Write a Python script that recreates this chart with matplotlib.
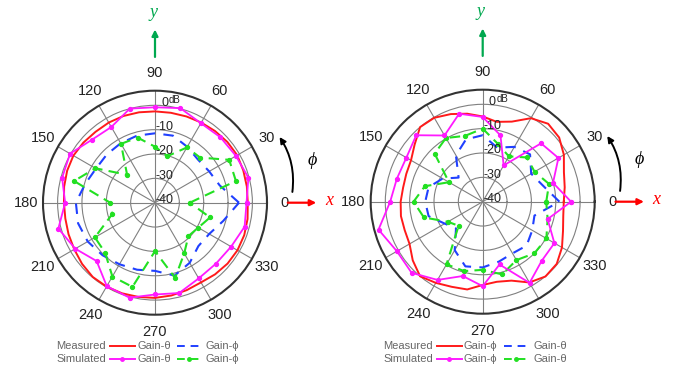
import numpy as np
import matplotlib.pyplot as plt
from matplotlib.lines import Line2D
from matplotlib.patches import FancyArrowPatch

plt.rcParams['font.family'] = ['Liberation Sans', 'DejaVu Sans']

# angles (deg) for simulated and measured samples
ang15 = np.arange(0, 360, 15)
ang10 = np.arange(0, 360, 10)

# left pattern (dB)
left_meas_theta = [-1.9, -1.7, -1.4, -1.0, -1.2, -1.6, -2.0, -2.3, -2.5, -2.5, -2.3, -2.1,
                   -2.0, -2.0, -1.6, -1.3, -1.6, -2.1, -2.6, -2.6, -2.2, -1.7, -0.9, -0.2,
                   -0.2, -0.4, -0.7, -0.9, -1.3, -1.8, -2.2, -1.6, -1.1, -0.9, -1.0, -1.4]
left_meas_phi = [-5.5, -12.5, -14.3, -15.0, -13.5, -11.5, -11.5, -11.5, -11.8, -12.0, -12.0, -10.3,
                 -7.5, -7.3, -8.1, -9.5, -10.8, -11.5, -12.0, -9.0, -11.5, -14.8, -14.3, -11.0]
left_sim_theta = [-2.4, -0.3, -1.6, -2.0, -2.3, 0.2, -0.8, 0.0, -4.1, -3.4, 0.3, -0.5,
                  -3.1, 1.1, -2.2, -6.1, -0.4, 0.4, -2.3, -1.6, -4.1, -4.6, -3.9, -1.9]
left_sim_phi = [-25.7, -5.6, -4.8, -13.8, -13.8, -20.2, -17.0, -12.3, -12.1, -23.8, -11.7, -5.6,
                -21.6, -21.8, -11.5, -11.0, -5.0, -4.2, -20.1, -8.0, -16.0, -20.6, -19.5, -16.6]

# right pattern (dB)
right_meas_phi = [-6.7, -5.8, -4.5, -1.5, 1.0, 1.8, -0.4, -5.0, -6.7, -5.0, -3.3, -1.7,
                  -0.2, 0.0, -3.5, -6.0, -6.6, -6.8, -6.3, -5.9, -5.9, -5.3, -2.5, 0.0,
                  -1.5, -2.8, -3.4, -5.8, -6.6, -5.5, -1.7, 0.1, -0.3, -2.4, -4.9, -6.4]
right_meas_theta = [-8.5, -14.4, -17.0, -12.5, -14.0, -17.0, -12.7, -13.5, -18.0, -26.0, -21.0, -17.0,
                    -16.4, -17.0, -22.0, -24.5, -17.0, -12.5, -13.0, -14.5, -15.5, -14.5, -16.5, -18.0]
right_sim_phi = [-3.7, -10.1, -4.1, -6.1, -22.8, -11.8, -5.2, -2.6, -8.6, -1.4, -3.8, -3.5,
                 -2.0, 4.3, 0.7, 1.3, -2.9, -8.4, -5.3, -13.3, -1.5, -5.7, -6.0, -12.4]
right_sim_theta = [-13.9, -11.8, -15.4, -14.3, -18.5, -15.5, -10.0, -12.0, -9.8, -12.1, -24.0, -15.4,
                   -11.6, -15.0, -23.5, -26.0, -10.3, -10.5, -12.0, -9.1, -12.3, -10.0, -9.8, -12.4]

angle_labels = [str(a) for a in range(0, 360, 30)]
ring_labels = ['-40', '-30', '-20', '-10', '0']

RED = '#ff1a1a'
MAG = '#ff1aff'
BLUE = '#2040ff'
GREEN = '#22e022'
W, H = 675, 368
R_PX = 112.0

fig = plt.figure(figsize=(6.75, 3.68), dpi=100)


def fx(x):
    return x / W


def fy(y):
    return 1 - y / H


def closed(a, v):
    a = np.deg2rad(np.append(a, a[0]))
    return a, np.append(v, v[0])


def pattern(cx, cy, meas_a, meas_b, sim_a, sim_b):
    ax = fig.add_axes([fx(cx - R_PX), fy(cy + R_PX), 2 * R_PX / W, 2 * R_PX / H],
                      projection='polar')
    ax.set_theta_zero_location('E')
    ax.set_ylim(-40, 6)
    ax.set_thetagrids(range(0, 360, 30), angle_labels, fontsize=10.5, color='#222')
    ax.tick_params(axis='x', pad=2)
    ax.set_rgrids([-30, -20, -10, 0], labels=[''] * 4)
    ax.grid(color='#808080', lw=0.8)
    ax.spines['polar'].set_color('#333')
    ax.spines['polar'].set_linewidth(1.5)

    t, v = closed(ang10, meas_a)
    ax.plot(t, v, color=RED, lw=1.4, zorder=4)
    t, v = closed(ang15, meas_b)
    ax.plot(t, v, color=BLUE, lw=1.5, dashes=(5, 4), zorder=3)
    t, v = closed(ang15, sim_a)
    ax.plot(t, v, color=MAG, lw=1.3, marker='o', ms=2.8, zorder=5)
    t, v = closed(ang15, sim_b)
    ax.plot(t, v, color=GREEN, lw=1.5, dashes=(5, 3), marker='o', ms=2.8, zorder=3)

    for r, lbl in zip(range(-40, 10, 10), ring_labels):
        ax.annotate(lbl, xy=(np.pi / 2, r), xytext=(7, 2), textcoords='offset points',
                    ha='center', va='center', fontsize=9, color='#222', zorder=6)
    ax.annotate('dB', xy=(np.pi / 2, 0), xytext=(14, 4), textcoords='offset points',
                ha='center', va='center', fontsize=7, color='#222', zorder=6)

    # axis arrows and phi direction
    fig.add_artist(FancyArrowPatch((fx(cx), fy(cy - 143)), (fx(cx), fy(cy - 176)),
                                   transform=fig.transFigure, arrowstyle='-|>',
                                   mutation_scale=9, color='#00a84f', lw=1.6))
    fig.text(fx(cx - 2), fy(cy - 190), 'y', color='#00a84f', fontsize=13, style='italic',
             family=['Liberation Serif', 'DejaVu Serif'], ha='center', va='center')
    fig.add_artist(FancyArrowPatch((fx(cx + 130), fy(cy)), (fx(cx + 164), fy(cy)),
                                   transform=fig.transFigure, arrowstyle='-|>',
                                   mutation_scale=9, color='#ff0000', lw=1.6))
    fig.text(fx(cx + 174), fy(cy - 2), 'x', color='#ff0000', fontsize=13, style='italic',
             family=['Liberation Serif', 'DejaVu Serif'], ha='center', va='center')
    fig.add_artist(FancyArrowPatch((fx(cx + 137), fy(cy - 8)), (fx(cx + 123), fy(cy - 68)),
                                   transform=fig.transFigure, arrowstyle='-|>',
                                   connectionstyle='arc3,rad=0.2',
                                   mutation_scale=9, color='black', lw=1.4))
    fig.text(fx(cx + 157), fy(cy - 42), 'ϕ', color='black', fontsize=13, style='italic',
             family=['Liberation Serif', 'DejaVu Serif'], ha='center', va='center')
    return ax


pattern(155, 202.7, left_meas_theta, left_meas_phi, left_sim_theta, left_sim_phi)
pattern(482.7, 201.7, right_meas_phi, right_meas_theta, right_sim_phi, right_sim_theta)


def legend_row(x0, y, name, c1, l1, c2, l2, sim):
    kw = dict(fontsize=8, color='#666', va='center')
    fig.text(fx(x0), fy(y), name, ha='left', **kw)
    xs = x0 + 54
    mk = dict(marker='o', ms=2.5, markevery=[1]) if sim else {}
    fig.add_artist(Line2D([fx(xs), fx(xs + 12), fx(xs + 25)], [fy(y)] * 3, color=c1, lw=1.4,
                          transform=fig.transFigure, **mk))
    fig.text(fx(xs + 27), fy(y), l1, ha='left', **kw)
    xb = xs + 67
    fig.add_artist(Line2D([fx(xb), fx(xb + 12), fx(xb + 25)], [fy(y)] * 3, color=c2, lw=1.4,
                          dashes=(4, 3), transform=fig.transFigure, **mk))
    fig.text(fx(xb + 29), fy(y), l2, ha='left', **kw)


legend_row(56, 346, 'Measured', RED, 'Gain-θ', BLUE, 'Gain-ϕ', False)
legend_row(56, 358.5, 'Simulated', MAG, 'Gain-θ', GREEN, 'Gain-ϕ', True)
legend_row(383, 346, 'Measured', RED, 'Gain-ϕ', BLUE, 'Gain-θ', False)
legend_row(383, 358.5, 'Simulated', MAG, 'Gain-ϕ', GREEN, 'Gain-θ', True)

fig.savefig('out.png', dpi=100)
